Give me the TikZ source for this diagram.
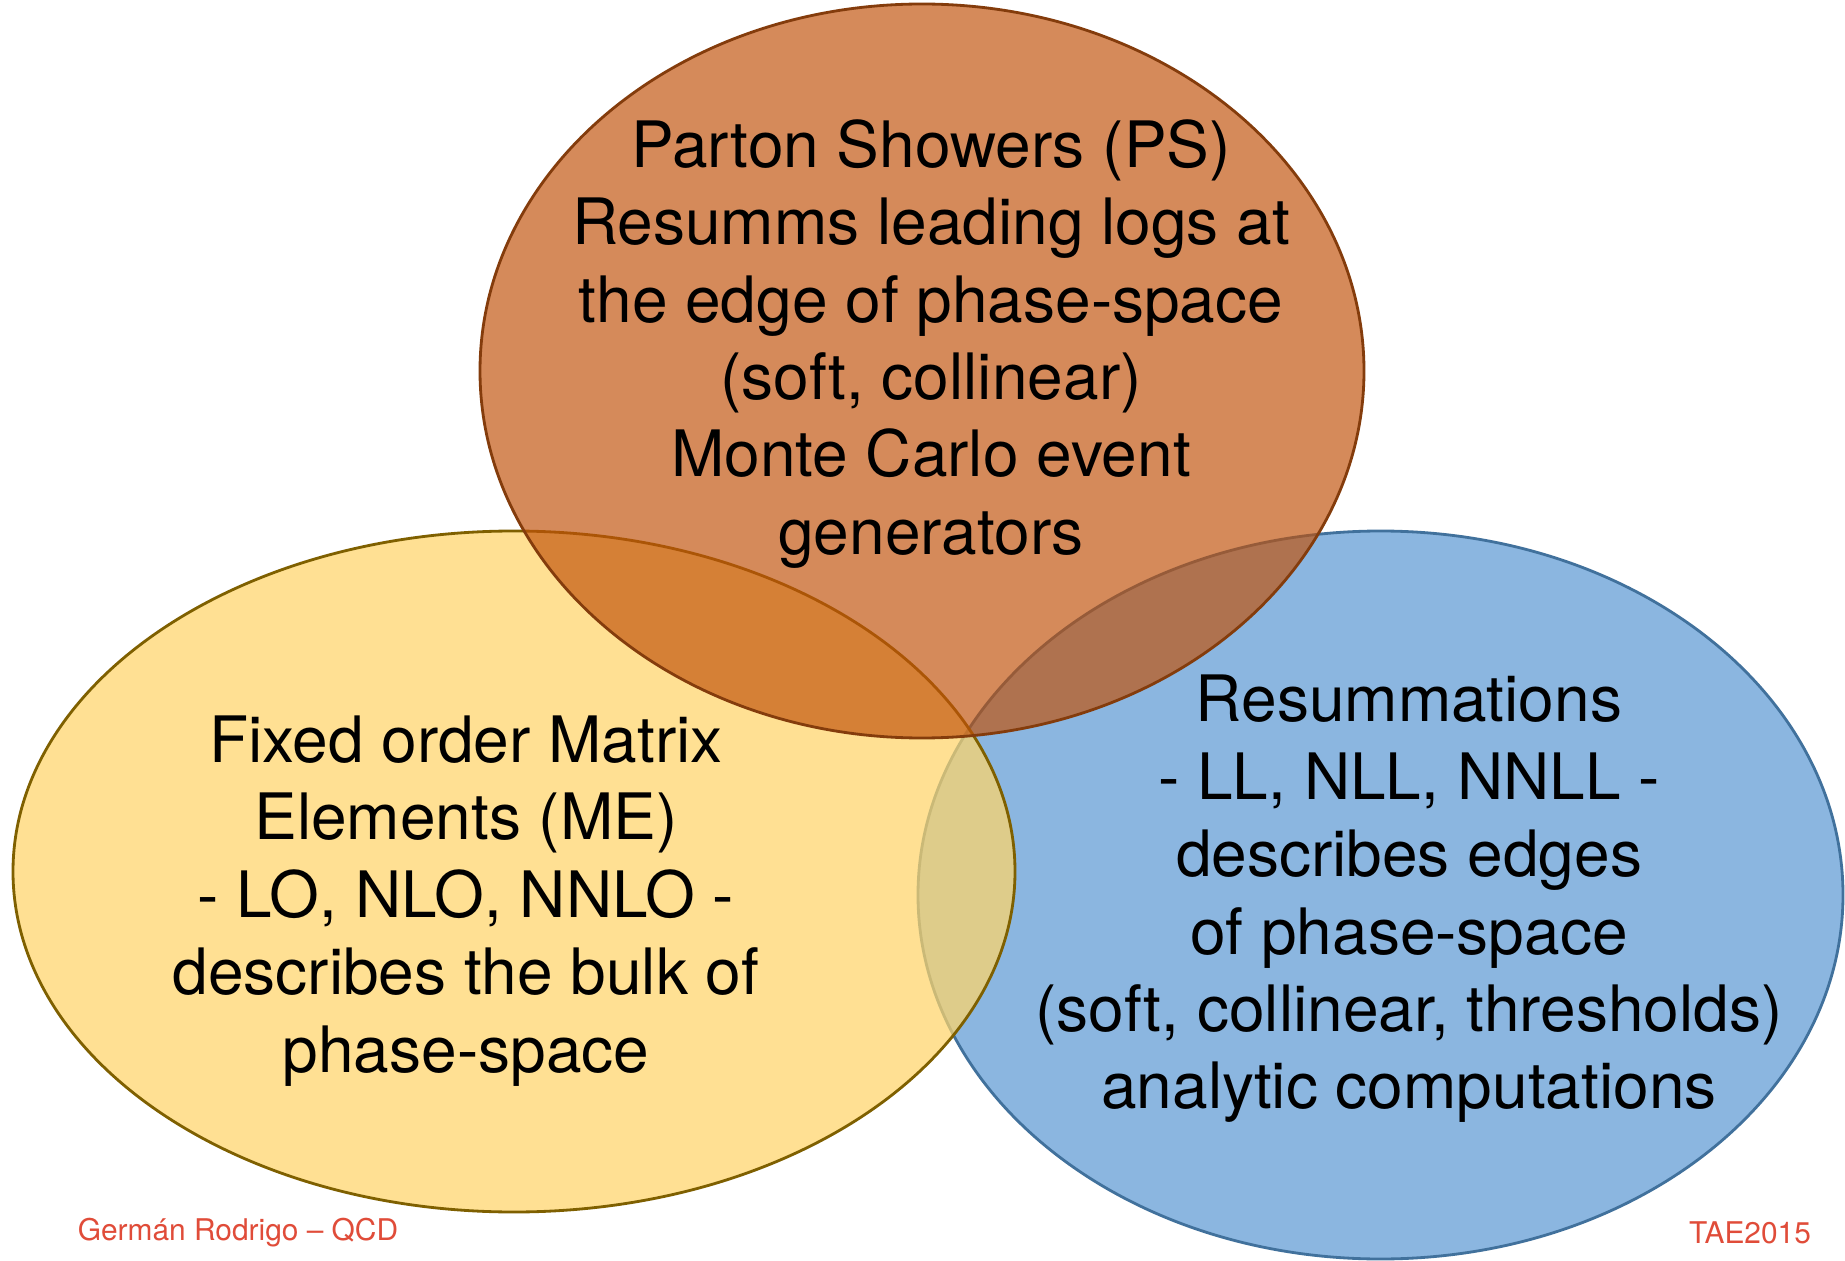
\documentclass[tikz,border=0pt]{standalone}
\usepackage{fontspec}
\setmainfont{TeX Gyre Heros}
\definecolor{psfill}{RGB}{193,81,9}
\definecolor{psline}{RGB}{132,60,12}
\definecolor{mefill}{RGB}{255,213,106}
\definecolor{meline}{RGB}{127,96,0}
\definecolor{resfill}{RGB}{139,182,224}
\definecolor{resline}{RGB}{65,113,156}
\definecolor{footred}{RGB}{224,76,57}
\begin{document}
\begin{tikzpicture}[x=0.01cm,y=-0.01cm,
  blob/.style={line width=0.8pt},
  bodytext/.style={align=center,font=\fontsize{18.2}{22}\selectfont,inner sep=0pt},
  foot/.style={text=footred,font=\fontsize{8.5}{10}\selectfont,inner sep=0pt}]
\useasboundingbox (0,0) rectangle (1845,1261);
\fill[white] (0,0) rectangle (1845,1261);
\draw[blob,fill=resfill,draw=resline] (1380.5,895) ellipse [x radius=462.5,y radius=364];
\draw[blob,fill=mefill,fill opacity=0.72,draw=meline] (514,871.5) ellipse [x radius=501,y radius=340.5];
\draw[blob,fill=psfill,fill opacity=0.67,draw=psline] (922,371) ellipse [x radius=442,y radius=367];
\node[bodytext] (ps) at (931,344) {Parton Showers (PS)\\Resumms leading logs at\\the edge of phase-space\\(soft, collinear)\\Monte Carlo event\\generators};
\node[bodytext] (me) at (466,901) {Fixed order Matrix\\Elements (ME)\\- LO, NLO, NNLO -\\describes the bulk of\\phase-space};
\node[bodytext] (res) at (1409,899) {Resummations\\- LL, NLL, NNLL -\\describes edges\\of phase-space\\(soft, collinear, thresholds)\\analytic computations};
\node[foot] (author) at (238,1233) {Germán Rodrigo – QCD};
\node[foot] (conf) at (1750,1233) {TAE2015};
\end{tikzpicture}
\end{document}
